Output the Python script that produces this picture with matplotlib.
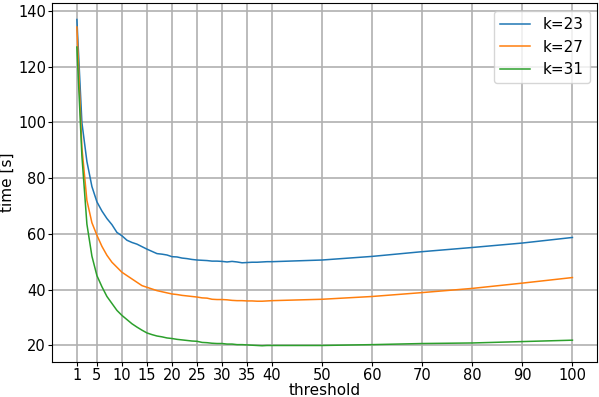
import numpy as np
import matplotlib.pyplot as plt

threshold = list(range(1, 41)) + [50, 60, 70, 80, 90, 100]

k23 = [137.0, 100.0, 86.0, 77.0, 71.5, 68.2, 65.5, 63.3, 60.5, 59.3,
       57.7, 56.9, 56.3, 55.4, 54.5, 53.7, 52.9, 52.7, 52.4, 51.8,
       51.7, 51.3, 51.1, 50.8, 50.6, 50.5, 50.4, 50.2, 50.2, 50.1,
       49.9, 50.1, 49.9, 49.6, 49.7, 49.8, 49.8, 49.9, 50.0, 50.0,
       50.6, 51.9, 53.6, 55.1, 56.7, 58.7]
k27 = [134.3, 91.0, 72.0, 64.0, 59.5, 55.5, 52.3, 49.8, 48.0, 46.2,
       45.0, 43.8, 42.6, 41.4, 40.8, 40.2, 39.6, 39.2, 38.8, 38.4,
       38.2, 37.9, 37.7, 37.5, 37.3, 37.0, 36.9, 36.5, 36.4, 36.4,
       36.3, 36.1, 36.0, 36.0, 35.9, 35.9, 35.8, 35.8, 35.9, 36.0,
       36.5, 37.5, 38.9, 40.4, 42.3, 44.3]
k31 = [127.1, 88.0, 63.5, 52.0, 45.0, 41.0, 37.5, 35.0, 32.5, 30.7,
       29.2, 27.7, 26.5, 25.4, 24.4, 23.8, 23.3, 23.0, 22.6, 22.4,
       22.1, 21.9, 21.7, 21.5, 21.4, 21.0, 20.9, 20.7, 20.6, 20.6,
       20.4, 20.4, 20.2, 20.2, 20.1, 20.0, 19.9, 19.8, 19.9, 19.9,
       19.9, 20.2, 20.6, 20.8, 21.3, 21.8]
xticks = [1, 5, 10, 15, 20, 25, 30, 35, 40, 50, 60, 70, 80, 90, 100]

plt.rcParams['font.size'] = 11
fig = plt.figure(figsize=(5.99, 3.97), dpi=100)
ax = fig.add_axes([0.087, 0.088, 0.910, 0.904])

ax.plot(threshold, k23, label="k=23", linewidth=1.1)
ax.plot(threshold, k27, label="k=27", linewidth=1.1)
ax.plot(threshold, k31, label="k=31", linewidth=1.1)

ax.set_xticks(xticks)
ax.tick_params(labelsize=10.5, length=2.9, pad=1.5)
ax.grid(True, linewidth=1.2)
ax.set_xlabel("threshold")
ax.set_ylabel("time [s]")
ax.xaxis.set_label_coords(0.5, -0.058)
ax.yaxis.set_label_coords(-0.068, 0.5)
ax.legend(loc="upper right")

fig.savefig("out.png", dpi=100)
